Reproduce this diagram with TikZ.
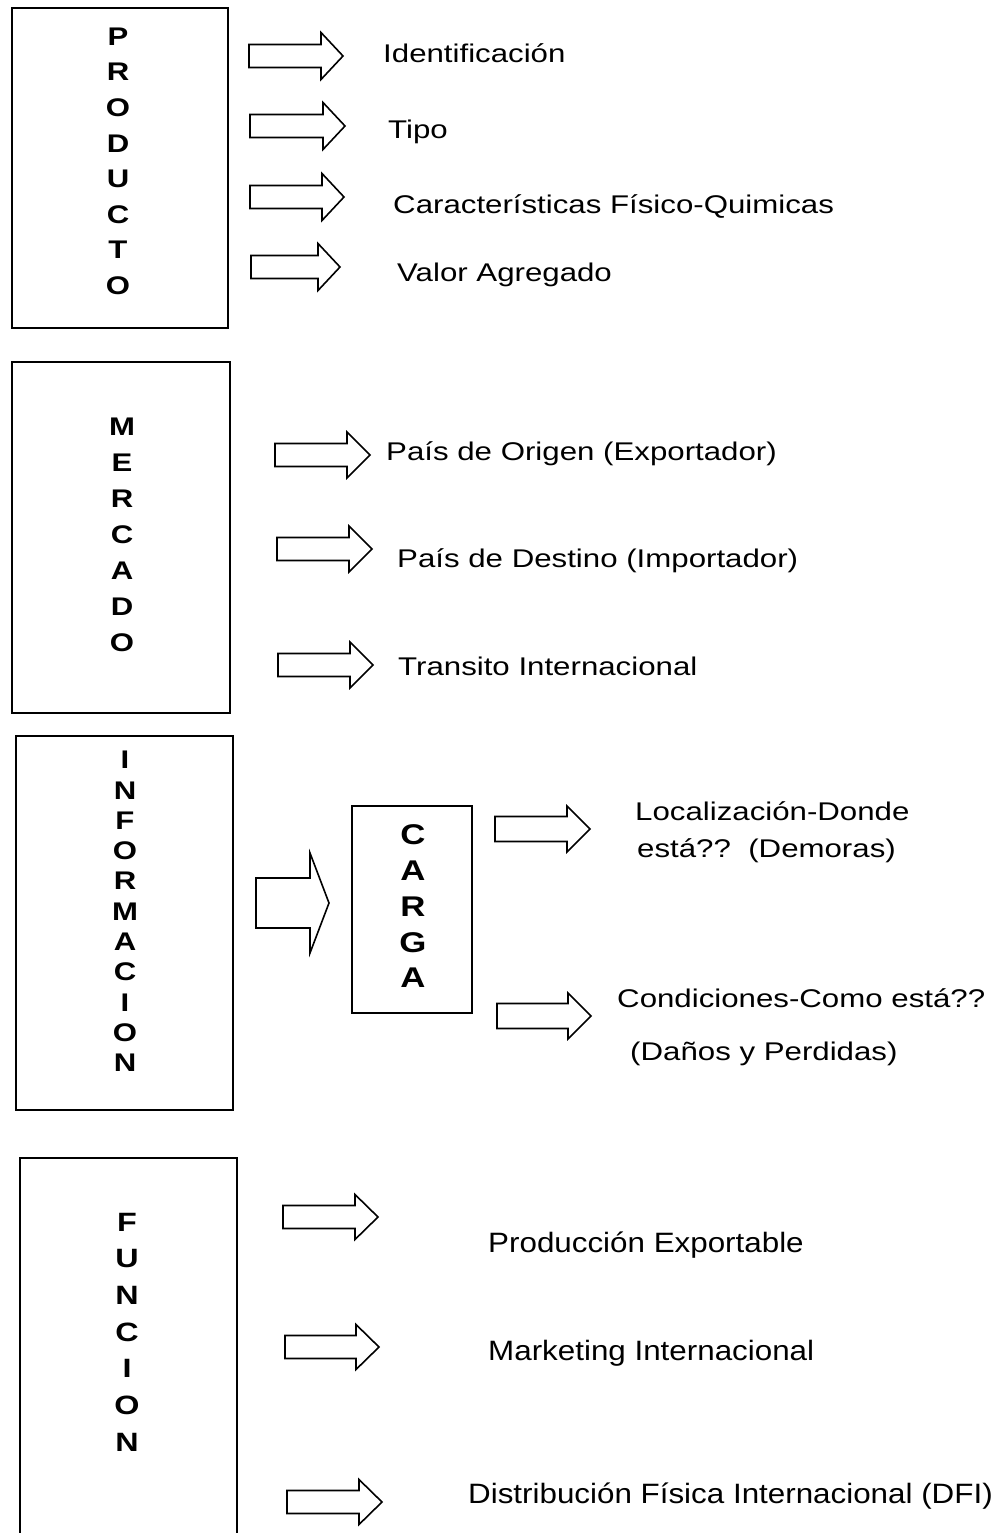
\documentclass[tikz,border=0pt]{standalone}
\usepackage{fontspec}
\setmainfont{Liberation Sans}[FakeStretch=1.22]
\newfontfamily\funcfont{Liberation Sans}[FakeStretch=1.12]
\begin{document}
\begin{tikzpicture}[x=1pt,y=-1pt,
  boxline/.style={draw=black,line width=1.8pt},
  arr/.style={draw=black,line width=1.6pt,line join=miter,fill=white},
  vl/.style={inner sep=0pt,font=\bfseries\fontsize{25.5}{28}\selectfont},
  vlc/.style={inner sep=0pt,font=\bfseries\fontsize{28.5}{31}\selectfont},
  vlf/.style={inner sep=0pt,font=\bfseries\fontsize{26.5}{29}\selectfont},
  lbl/.style={inner sep=0pt,anchor=base west,font=\fontsize{25.6}{30}\selectfont},
  lblf/.style={inner sep=0pt,anchor=base west,font=\funcfont\fontsize{28}{32}\selectfont}]
\newcommand{\harrow}[6]{%
  \draw[arr] ({#1},{#2-#4}) -- ({#3-#6},{#2-#4}) -- ({#3-#6},{#2-#5}) -- ({#3},{#2})
    -- ({#3-#6},{#2+#5}) -- ({#3-#6},{#2+#4}) -- ({#1},{#2+#4}) -- cycle;}
\fill[white] (0,0) rectangle (1007,1533);
\path[use as bounding box] (0,0) rectangle (1007,1533);

% ---------- PRODUCTO ----------
\node[boxline,minimum width=216pt,minimum height=320pt] (prod) at (120,168) {};
\foreach \l [count=\i] in {P,R,O,D,U,C,T,O}
  \node[vl] (prod\i) at (118,{36.5+35.6*(\i-1)}) {\l};
\harrow{249}{56}{343}{11.5}{23.5}{22}
\harrow{250}{126}{345}{11.5}{23.5}{22}
\harrow{250}{197}{344}{11.5}{23.5}{22}
\harrow{251}{267}{340}{11.5}{23.5}{22}
\node[lbl] (t1) at (383,63) {Identificación};
\node[lbl] (t2) at (388,139) {Tipo};
\node[lbl] (t3) at (393,214) {Características Físico-Quimicas};
\node[lbl] (t4) at (397,281) {Valor Agregado};

% ---------- MERCADO ----------
\node[boxline,minimum width=218pt,minimum height=351pt] (merc) at (121,537.5) {};
\foreach \l [count=\i] in {M,E,R,C,A,D,O}
  \node[vl] (merc\i) at (122,{427+36*(\i-1)}) {\l};
\harrow{275}{455}{370}{11.5}{23}{23}
\harrow{277}{549}{372}{11.5}{23}{23}
\harrow{278}{665}{373}{11.5}{23}{23}
\node[lbl] (m1) at (386,460) {País de Origen (Exportador)};
\node[lbl] (m2) at (397,567) {País de Destino (Importador)};
\node[lbl] (m3) at (398,675) {Transito Internacional};

% ---------- INFORMACION ----------
\node[boxline,minimum width=217pt,minimum height=374pt] (info) at (124.5,923) {};
\foreach \l [count=\i] in {I,N,F,O,R,M,A,C,I,O,N}
  \node[vl] (info\i) at (125,{760+30.3*(\i-1)}) {\l};
\harrow{256}{903}{329}{25}{50}{19}
\node[boxline,minimum width=120pt,minimum height=207pt] (carga) at (412,909.5) {};
\foreach \l [count=\i] in {C,A,R,G,A}
  \node[vlc] (carga\i) at (413,{835+35.75*(\i-1)}) {\l};
\harrow{495}{829}{590}{12.5}{23}{23}
\harrow{497}{1016}{591}{12.5}{23}{23}
\node[lbl] (c1) at (635,820) {Localización-Donde};
\node[lbl] (c2) at (637,857) {está??\ \ (Demoras)};
\node[lbl] (c3) at (617,1007) {Condiciones-Como está??};
\node[lbl] (c4) at (630,1060) {(Daños y Perdidas)};

% ---------- FUNCION ----------
\coordinate (fbl) at (20,1533);
\coordinate (ftl) at (20,1158);
\coordinate (ftr) at (237,1158);
\coordinate (fbr) at (237,1533);
\draw[boxline] (fbl) -- (ftl) -- (ftr) -- (fbr);
\foreach \l [count=\i] in {F,U,N,C,I,O,N}
  \node[vlf] (func\i) at (127,{1222+36.7*(\i-1)}) {\l};
\harrow{283}{1217}{378}{11.5}{22.5}{23}
\harrow{285}{1347}{379}{11.5}{22.5}{23}
\harrow{287}{1502}{382}{11.5}{22.5}{23}
\node[lblf] (f1) at (488,1252) {Producción Exportable};
\node[lblf] (f2) at (488,1360) {Marketing Internacional};
\node[lblf] (f3) at (468,1503) {Distribución Física Internacional (DFI)};
\end{tikzpicture}
\end{document}
